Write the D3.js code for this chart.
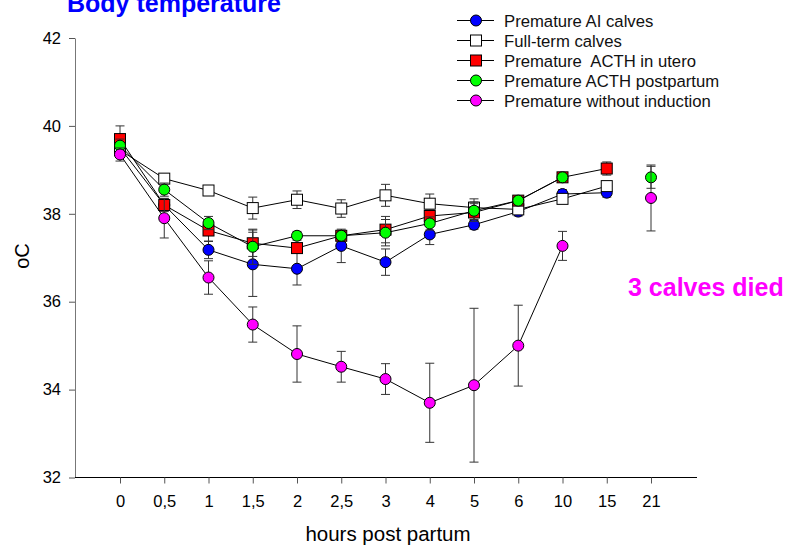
<!DOCTYPE html>
<html>
<head>
<meta charset="utf-8">
<script src="https://cdn.jsdelivr.net/npm/d3@7"></script>
<style>
  body { margin: 0; background: #fff; }
  text { font-family: Arial, "Liberation Sans", sans-serif; }
</style>
</head>
<body>
<div id="chart"></div>
<script>
// categories on the x axis (hours post partum)
var hours = ["0", "0,5", "1", "1,5", "2", "2,5", "3", "4", "5", "6", "10", "15", "21"];
var yTicks = [32, 34, 36, 38, 40, 42];

// means (oC) and error bars per group, null = no value
var aiMean   = [39.5, 38.2, 37.18, 36.85, 36.75, 37.27, 36.9, 37.53, 37.75, 38.05, 38.45, 38.48, null];
var aiErr    = [0.1, 0.1, 0.2, 0.73, 0.37, 0.38, 0.3, 0.23, 0.1, 0.1, 0.1, 0.1, null];
var fullMean = [39.45, 38.8, 38.53, 38.13, 38.32, 38.12, 38.42, 38.23, 38.14, 38.1, 38.34, 38.63, null];
var fullErr  = [0.15, 0.1, 0.1, 0.25, 0.2, 0.2, 0.25, 0.22, 0.2, 0.1, 0.1, 0.1, null];
var uteroMean = [39.7, 38.2, 37.62, 37.33, 37.22, 37.5, 37.64, 37.95, 38.03, 38.3, 38.83, 39.03, null];
var uteroErr  = [0.3, 0.15, 0.25, 0.3, 0.1, 0.1, 0.3, 0.15, 0.2, 0.1, 0.05, 0.15, null];
var postMean = [39.55, 38.55, 37.79, 37.25, 37.5, 37.5, 37.57, 37.78, 38.07, 38.3, 38.83, null, 38.83];
var postErr  = [0.15, 0.15, 0.15, 0.4, 0.1, 0.1, 0.3, 0.15, 0.2, 0.1, 0.05, null, 0.25];
var noIndMean = [39.35, 37.9, 36.55, 35.48, 34.81, 34.52, 34.24, 33.7, 34.1, 35.0, 37.27, null, 38.36];
var noIndErr  = [0.15, 0.45, 0.38, 0.4, 0.64, 0.35, 0.35, 0.9, 1.75, 0.92, 0.33, null, 0.75];

var groups = [
  {name: "Premature AI calves", mean: aiMean, err: aiErr, fill: "#0000ff", shape: "circle"},
  {name: "Full-term calves", mean: fullMean, err: fullErr, fill: "#ffffff", shape: "square"},
  {name: "Premature  ACTH in utero", mean: uteroMean, err: uteroErr, fill: "#ff0000", shape: "square"},
  {name: "Premature ACTH postpartum", mean: postMean, err: postErr, fill: "#00ff00", shape: "circle"},
  {name: "Premature without induction", mean: noIndMean, err: noIndErr, fill: "#ff00ff", shape: "circle"}
];

var W = 798, H = 547;
var svg = d3.select("#chart").append("svg")
    .attr("width", W)
    .attr("height", H);

var x = d3.scalePoint().domain(hours).range([120, 651]);
var y = d3.scaleLinear().domain([32, 42]).range([477.5, 38]);

// y axis (grey)
var yAxis = svg.append("g")
    .attr("transform", "translate(75,0)")
    .call(d3.axisLeft(y).tickValues(yTicks).tickSize(6).tickPadding(8).tickSizeOuter(0));
yAxis.select(".domain").attr("stroke", "#777");
yAxis.selectAll(".tick line").attr("stroke", "#555");
yAxis.selectAll("text").attr("font-size", 16.5).attr("fill", "#000")
    .style("font-family", "Arial, 'Liberation Sans', sans-serif");

// x axis (black line, points on categories)
svg.append("line")
    .attr("x1", 75).attr("x2", 697)
    .attr("y1", y(32)).attr("y2", y(32))
    .attr("stroke", "#000");
var xAxis = svg.append("g")
    .attr("transform", "translate(0," + y(32) + ")")
    .call(d3.axisBottom(x).tickSize(6).tickPadding(12).tickSizeOuter(0));
xAxis.select(".domain").remove();
xAxis.selectAll(".tick line").attr("stroke", "#555");
xAxis.selectAll("text").attr("font-size", 16.5).attr("fill", "#000")
    .style("font-family", "Arial, 'Liberation Sans', sans-serif");

// axis titles
svg.append("text")
    .attr("x", 388).attr("y", 541)
    .attr("text-anchor", "middle")
    .attr("font-size", 20.5)
    .text("hours post partum");
svg.append("text")
    .attr("transform", "translate(29,256) rotate(-90)")
    .attr("text-anchor", "middle")
    .attr("font-size", 20)
    .text("oC");

// title and note
svg.append("text")
    .attr("x", 67).attr("y", 12)
    .attr("font-size", 25)
    .attr("font-weight", "bold")
    .attr("fill", "#0000ff")
    .text("Body temperature");
svg.append("text")
    .attr("x", 628).attr("y", 295.5)
    .attr("font-size", 25)
    .attr("font-weight", "bold")
    .attr("fill", "#ff00ff")
    .text("3 calves died");

function drawMarker(g, shape, cx, cy, fill) {
  if (shape === "circle") {
    g.append("circle")
      .attr("cx", cx).attr("cy", cy).attr("r", 5.5)
      .attr("fill", fill).attr("stroke", "#000").attr("stroke-width", 1);
  } else {
    g.append("rect")
      .attr("x", cx - 5.5).attr("y", cy - 5.5)
      .attr("width", 11).attr("height", 11)
      .attr("fill", fill).attr("stroke", "#000").attr("stroke-width", 1);
  }
}

// series: lines, error bars, markers
var line = d3.line()
    .x(function(d) { return x(d.h); })
    .y(function(d) { return y(d.v); });

groups.forEach(function(gr) {
  var pts = hours.map(function(h, i) { return {h: h, v: gr.mean[i], e: gr.err[i]}; });
  var g = svg.append("g");
  // only connect points that are next to each other in the data
  pts.forEach(function(p, i) {
    if (i > 0 && p.v != null && pts[i - 1].v != null) {
      g.append("path").attr("d", line([pts[i - 1], p]))
        .attr("fill", "none").attr("stroke", "#000").attr("stroke-width", 1);
    }
  });
  var valid = pts.filter(function(p) { return p.v != null; });
  valid.forEach(function(p) {
    var cx = x(p.h);
    g.append("line")
      .attr("x1", cx).attr("x2", cx)
      .attr("y1", y(p.v - p.e)).attr("y2", y(p.v + p.e))
      .attr("stroke", "#333").attr("stroke-width", 1);
    [p.v - p.e, p.v + p.e].forEach(function(v) {
      g.append("line")
        .attr("x1", cx - 4.5).attr("x2", cx + 4.5)
        .attr("y1", y(v)).attr("y2", y(v))
        .attr("stroke", "#333").attr("stroke-width", 1);
    });
  });
  valid.forEach(function(p) {
    drawMarker(g, gr.shape, x(p.h), y(p.v), gr.fill);
  });
});

// legend
var legend = svg.append("g");
groups.forEach(function(gr, i) {
  var ly = 20.5 + i * 20;
  legend.append("line")
    .attr("x1", 457).attr("x2", 494)
    .attr("y1", ly).attr("y2", ly)
    .attr("stroke", "#000");
  drawMarker(legend, gr.shape, 476, ly, gr.fill);
  legend.append("text")
    .attr("x", 504).attr("y", ly)
    .attr("dy", "0.36em")
    .attr("font-size", 16.7)
    .attr("fill", "#111")
    .style("white-space", "pre")
    .text(gr.name);
});
</script>
</body>
</html>
